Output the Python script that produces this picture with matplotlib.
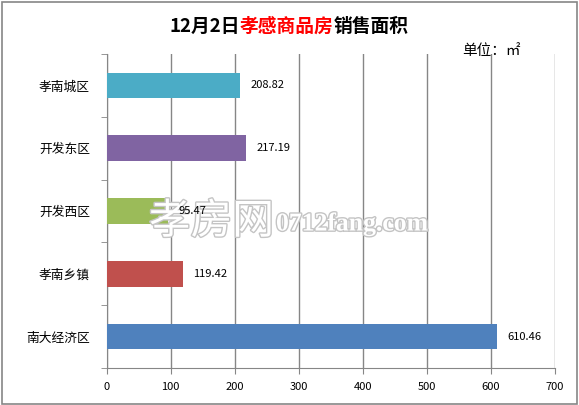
import matplotlib.pyplot as plt
import matplotlib.patheffects as pe
from matplotlib.patches import Rectangle

plt.rcParams['font.family'] = ['Noto Sans CJK SC', 'DejaVu Sans']

# data (bottom to top)
areas = ['南大经济区', '孝南乡镇', '开发西区', '开发东区', '孝南城区']
values = [610.46, 119.42, 95.47, 217.19, 208.82]
colors = ['#4F81BD', '#C0504D', '#9BBB59', '#8064A2', '#4BACC6']
xticks = [0, 100, 200, 300, 400, 500, 600, 700]

W, H = 579, 405
fig = plt.figure(figsize=(W / 100, H / 100), dpi=100)
fig.patch.set_facecolor('white')
fig.patches.append(Rectangle((1.5 / W, 1.5 / H), 1 - 3.5 / W, 1 - 3.5 / H,
                             transform=fig.transFigure, fill=False,
                             edgecolor='#868686', lw=1.2))

ax = fig.add_axes([106.7 / W, 1 - 368 / H, (554.7 - 106.7) / W, (368 - 54) / H])
ypos = list(range(len(areas)))
ax.barh(ypos, values, height=0.41, color=colors, zorder=3)
for y, v in zip(ypos, values):
    ax.annotate(f'{v:.2f}', (v, y), xytext=(7.5, 0), textcoords='offset points',
                va='center', ha='left', fontsize=8, zorder=6)

ax.set_xlim(0, 700)
ax.set_ylim(-0.5, 4.5)
ax.set_xticks(xticks)
ax.set_yticks(ypos)
ax.set_yticklabels(areas, fontsize=9.2)
ax.set_yticks([i - 0.5 for i in range(6)], minor=True)
ax.tick_params(axis='y', which='major', length=0, pad=12)
ax.tick_params(axis='y', which='minor', length=4, color='#868686', direction='out')
ax.tick_params(axis='x', length=4, color='#868686', direction='out', labelsize=8, pad=6)
ax.grid(axis='x', color='#868686', lw=1, zorder=0)
for s in ['top', 'right']:
    ax.spines[s].set_visible(False)
for s in ['left', 'bottom']:
    ax.spines[s].set_color('#868686')

# title with red middle part
parts = [('12月2日', 'black'), ('孝感商品房', 'red'), ('销售面积', 'black')]
r = fig.canvas.get_renderer()
widths = []
for txt, c in parts:
    t = fig.text(0, 0, txt, fontsize=13.5, fontweight='bold')
    widths.append(t.get_window_extent(r).width)
    t.remove()
x = 289 - sum(widths) / 2
for (txt, c), w in zip(parts, widths):
    fig.text(x / W, 1 - 26 / H, txt, color=c, fontsize=13.5, fontweight='bold', va='center')
    x += w

fig.text(462 / W, 1 - 51.5 / H, '单位：㎡', fontsize=10.5, va='center')

# watermark (under the data labels)
stroke = [pe.withStroke(linewidth=2, foreground='#c4c4c4')]
ax.text(149 / W, 1 - 222 / H, '孝房网', transform=fig.transFigure, ha='left', va='center',
        fontsize=30, color='white', zorder=5, clip_on=False, path_effects=stroke)
ax.text(276 / W, 1 - 224 / H, '0712fang.com', transform=fig.transFigure, ha='left',
        va='center', fontsize=18.5, family='Liberation Serif', fontweight='bold',
        color='white', zorder=5, clip_on=False, path_effects=stroke)

fig.savefig('out.png', dpi=100)
